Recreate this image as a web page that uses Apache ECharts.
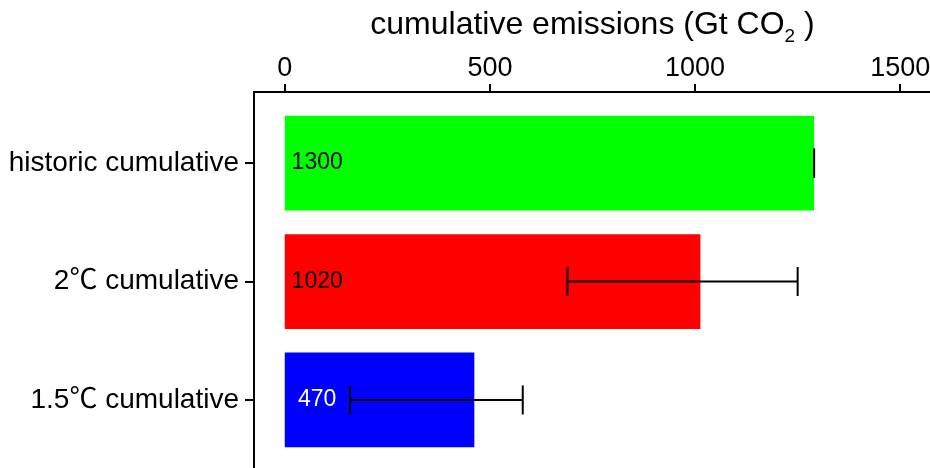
<!DOCTYPE html>
<html>
<head>
<meta charset="utf-8">
<script src="https://cdn.jsdelivr.net/npm/echarts@6/dist/echarts.min.js"></script>
<style>
  html, body { margin: 0; padding: 0; background: #fff; }
  #chart { width: 930px; height: 468px; }
</style>
</head>
<body>
<div id="chart"></div>
<script>
// ---- data ----
const categories = ['historic cumulative', '2℃ cumulative', '1.5℃ cumulative'];
const barValues = [1290, 1013, 462];
const valueLabels = ['1300', '1020', '470'];
const errLow = [1290, 689, 159];
const errHigh = [1290, 1250, 580];
const xTickValues = [0, 500, 1000, 1500];
const yTickValues = [0, 1, 2];

// ---- styles ----
const FONT = "'Liberation Sans', Arial, 'Noto Sans CJK SC', sans-serif";
const barColors = ['#00ff00', '#ff0000', '#0000ff'];
const labelColors = ['#000000', '#000000', '#ffffff'];
const BAR_FRAC = 0.8;
const CAP_FRAC = 0.245;
const LABEL_AT = 79;

const chart = echarts.init(document.getElementById('chart'), null, { renderer: 'canvas' });

const option = {
  animation: false,
  backgroundColor: '#ffffff',
  grid: { left: 254, right: -1, top: 92, bottom: -3, containLabel: false, outerBoundsMode: 'none' },
  xAxis: {
    type: 'value',
    position: 'top',
    min: -75,
    max: 1575,
    name: 'cumulative emissions (Gt CO{sub|2} )',
    nameLocation: 'middle',
    nameGap: 46,
    nameTextStyle: {
      fontSize: 32, color: '#000', fontFamily: FONT,
      rich: { sub: { fontSize: 19, color: '#000', fontFamily: FONT, padding: [22, 0, 0, 0] } }
    },
    axisLine: { show: true, onZero: false, lineStyle: { color: '#000', width: 2 } },
    axisTick: { show: true, inside: false, length: 8, customValues: xTickValues, lineStyle: { color: '#000', width: 2 } },
    axisLabel: { customValues: xTickValues, formatter: v => String(v), fontSize: 27, color: '#000', fontFamily: FONT, margin: 10 },
    splitLine: { show: false }
  },
  yAxis: {
    type: 'value',
    inverse: true,
    min: -0.6,
    max: 2.6,
    axisLine: { show: true, onZero: false, lineStyle: { color: '#000', width: 2 } },
    axisTick: { show: true, inside: false, length: 9, customValues: yTickValues, lineStyle: { color: '#000', width: 2 } },
    axisLabel: {
      customValues: yTickValues,
      formatter: v => categories[Math.round(v)] || '',
      fontSize: 28, color: '#000', fontFamily: FONT, margin: 15
    },
    splitLine: { show: false }
  },
  series: [
    {
      type: 'custom',
      name: 'bars',
      encode: { x: 0, y: 1 },
      data: barValues.map((v, i) => [v, i]),
      renderItem: function (params, api) {
        const v = api.value(0);
        const i = api.value(1);
        const p0 = api.coord([0, i]);
        const p1 = api.coord([v, i]);
        const h = api.size([0, BAR_FRAC])[1];
        const lp = api.coord([LABEL_AT, i]);
        return {
          type: 'group',
          children: [
            { type: 'rect', shape: { x: p0[0], y: p0[1] - h / 2, width: p1[0] - p0[0], height: h },
              style: { fill: barColors[i] } },
            { type: 'text', x: lp[0], y: lp[1],
              style: { text: valueLabels[i], fill: labelColors[i], fontSize: 23, fontFamily: FONT,
                       align: 'center', verticalAlign: 'middle' } }
          ]
        };
      }
    },
    {
      type: 'custom',
      name: 'errors',
      encode: { x: [0, 1], y: 2 },
      data: errLow.map((lo, i) => [lo, errHigh[i], i]),
      z: 5,
      renderItem: function (params, api) {
        const lo = api.value(0);
        const hi = api.value(1);
        const i = api.value(2);
        const a = api.coord([lo, i]);
        const b = api.coord([hi, i]);
        const ch = api.size([0, CAP_FRAC])[1] / 2;
        const st = { stroke: '#000', lineWidth: 2 };
        return {
          type: 'group',
          children: [
            { type: 'line', shape: { x1: a[0], y1: a[1], x2: b[0], y2: b[1] }, style: st },
            { type: 'line', shape: { x1: a[0], y1: a[1] - ch, x2: a[0], y2: a[1] + ch }, style: st },
            { type: 'line', shape: { x1: b[0], y1: b[1] - ch, x2: b[0], y2: b[1] + ch }, style: st }
          ]
        };
      }
    }
  ]
};

chart.setOption(option);
</script>
</body>
</html>
